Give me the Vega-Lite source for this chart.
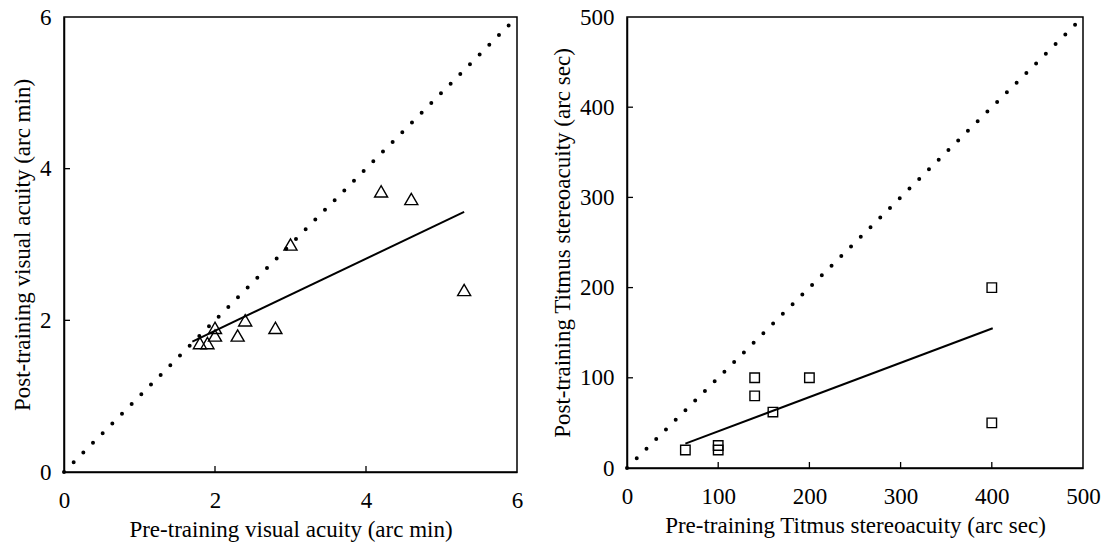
{
  "$schema": "https://vega.github.io/schema/vega-lite/v6.json",
  "background": "white",
  "padding": {"left": 10, "top": 5, "right": 2, "bottom": 2},
  "spacing": 24,
  "config": {
    "view": {"stroke": "black", "strokeWidth": 1.5},
    "font": "Liberation Serif",
    "axis": {
      "grid": false,
      "ticks": false,
      "tickSize": 0,
      "labelFlush": false,
      "domainColor": "black",
      "domainWidth": 1.5,
      "labelFont": "Liberation Serif",
      "labelFontSize": 23,
      "labelColor": "black",
      "titleFont": "Liberation Serif",
      "titleFontSize": 23,
      "titleFontWeight": "normal",
      "titleColor": "black",
      "format": "d"
    },
    "axisX": {"labelPadding": 17, "titlePadding": 6},
    "axisY": {"labelPadding": 13, "titlePadding": 5}
  },
  "datasets": {
    "acuity": [
      {"pre": 4.2, "post": 3.7},
      {"pre": 4.6, "post": 3.6},
      {"pre": 3.0, "post": 3.0},
      {"pre": 5.3, "post": 2.4},
      {"pre": 2.4, "post": 2.0},
      {"pre": 2.8, "post": 1.9},
      {"pre": 2.3, "post": 1.8},
      {"pre": 2.0, "post": 1.9},
      {"pre": 2.0, "post": 1.8},
      {"pre": 1.8, "post": 1.7},
      {"pre": 1.9, "post": 1.7}
    ],
    "acuity_fit": [
      {"pre": 1.7, "post": 1.72},
      {"pre": 5.3, "post": 3.43}
    ],
    "acuity_diag": [
      {"pre": 0, "post": 0},
      {"pre": 6, "post": 6}
    ],
    "acuity_ticks": [{"v": 2}, {"v": 4}],
    "stereo": [
      {"pre": 140, "post": 100},
      {"pre": 200, "post": 100},
      {"pre": 140, "post": 80},
      {"pre": 160, "post": 62},
      {"pre": 100, "post": 25},
      {"pre": 100, "post": 20},
      {"pre": 64, "post": 20},
      {"pre": 400, "post": 200},
      {"pre": 400, "post": 50}
    ],
    "stereo_fit": [
      {"pre": 64, "post": 27},
      {"pre": 401, "post": 155}
    ],
    "stereo_diag": [
      {"pre": 0, "post": 0},
      {"pre": 500, "post": 500}
    ],
    "stereo_ticks": [{"v": 100}, {"v": 200}, {"v": 300}, {"v": 400}]
  },
  "hconcat": [
    {
      "width": 453,
      "height": 455,
      "layer": [
        {
          "data": {"name": "acuity_diag"},
          "mark": {"type": "line", "color": "black", "strokeWidth": 4, "strokeCap": "round", "strokeDash": [0, 13.7]},
          "encoding": {
            "x": {"field": "pre", "type": "quantitative", "scale": {"domain": [0, 6]}, "axis": {"values": [0, 2, 4, 6], "title": "Pre-training visual acuity (arc min)"}},
            "y": {"field": "post", "type": "quantitative", "scale": {"domain": [0, 6]}, "axis": {"values": [0, 2, 4, 6], "title": "Post-training visual acuity (arc min)"}}
          }
        },
        {
          "data": {"name": "acuity_ticks"},
          "mark": {"type": "tick", "orient": "vertical", "color": "black", "size": 12, "thickness": 1.3, "clip": true, "opacity": 1},
          "encoding": {
            "x": {"field": "v", "type": "quantitative"},
            "y": {"datum": 0, "type": "quantitative"}
          }
        },
        {
          "data": {"name": "acuity_ticks"},
          "mark": {"type": "tick", "orient": "horizontal", "color": "black", "size": 12, "thickness": 1.3, "clip": true, "opacity": 1},
          "encoding": {
            "y": {"field": "v", "type": "quantitative"},
            "x": {"datum": 0, "type": "quantitative"}
          }
        },
        {
          "data": {"name": "acuity_fit"},
          "mark": {"type": "line", "color": "black", "strokeWidth": 2},
          "encoding": {
            "x": {"field": "pre", "type": "quantitative"},
            "y": {"field": "post", "type": "quantitative"}
          }
        },
        {
          "data": {"name": "acuity"},
          "mark": {"type": "point", "shape": "triangle-up", "filled": false, "color": "black", "strokeWidth": 1.4, "size": 170, "opacity": 1},
          "encoding": {
            "x": {"field": "pre", "type": "quantitative"},
            "y": {"field": "post", "type": "quantitative"}
          }
        }
      ]
    },
    {
      "width": 456,
      "height": 451,
      "layer": [
        {
          "data": {"name": "stereo_diag"},
          "mark": {"type": "line", "color": "black", "strokeWidth": 4, "strokeCap": "round", "strokeDash": [0, 13.7]},
          "encoding": {
            "x": {"field": "pre", "type": "quantitative", "scale": {"domain": [0, 500]}, "axis": {"values": [0, 100, 200, 300, 400, 500], "title": "Pre-training Titmus stereoacuity (arc sec)"}},
            "y": {"field": "post", "type": "quantitative", "scale": {"domain": [0, 500]}, "axis": {"values": [0, 100, 200, 300, 400, 500], "title": "Post-training Titmus stereoacuity (arc sec)"}}
          }
        },
        {
          "data": {"name": "stereo_ticks"},
          "mark": {"type": "tick", "orient": "vertical", "color": "black", "size": 12, "thickness": 1.3, "clip": true, "opacity": 1},
          "encoding": {
            "x": {"field": "v", "type": "quantitative"},
            "y": {"datum": 0, "type": "quantitative"}
          }
        },
        {
          "data": {"name": "stereo_ticks"},
          "mark": {"type": "tick", "orient": "horizontal", "color": "black", "size": 12, "thickness": 1.3, "clip": true, "opacity": 1},
          "encoding": {
            "y": {"field": "v", "type": "quantitative"},
            "x": {"datum": 0, "type": "quantitative"}
          }
        },
        {
          "data": {"name": "stereo_fit"},
          "mark": {"type": "line", "color": "black", "strokeWidth": 2},
          "encoding": {
            "x": {"field": "pre", "type": "quantitative"},
            "y": {"field": "post", "type": "quantitative"}
          }
        },
        {
          "data": {"name": "stereo"},
          "mark": {"type": "point", "shape": "square", "filled": false, "color": "black", "strokeWidth": 1.4, "size": 90, "opacity": 1},
          "encoding": {
            "x": {"field": "pre", "type": "quantitative"},
            "y": {"field": "post", "type": "quantitative"}
          }
        }
      ]
    }
  ]
}
